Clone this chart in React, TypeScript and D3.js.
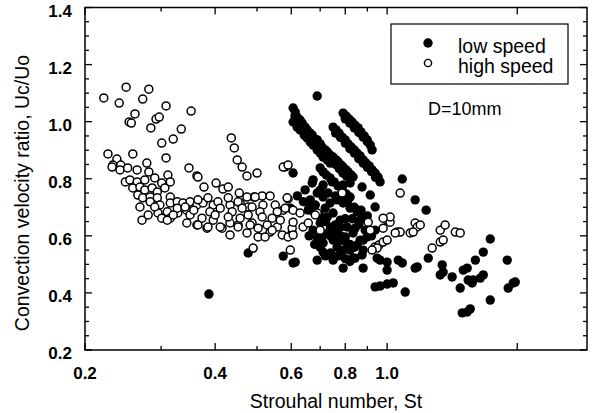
import React, { useEffect, useRef } from 'react'
import * as d3 from 'd3'

// [St, Uc/Uo]
const highSpeed: [number, number][] = [
  [0.221, 1.083], [0.240, 1.065], [0.249, 1.121], [0.272, 1.079], [0.281, 1.114], [0.308, 1.055],
  [0.352, 1.037], [0.261, 1.027], [0.253, 0.999], [0.256, 0.995], [0.292, 1.009], [0.297, 1.016],
  [0.284, 0.978], [0.334, 0.974], [0.320, 0.939], [0.301, 0.925], [0.436, 0.943], [0.443, 0.908],
  [0.450, 0.866], [0.462, 0.841], [0.474, 0.810], [0.500, 0.820],
  [0.226, 0.887], [0.237, 0.869], [0.258, 0.887], [0.308, 0.873], [0.232, 0.848], [0.242, 0.848],
  [0.278, 0.855], [0.348, 0.838], [0.363, 0.810], [0.377, 0.771], [0.402, 0.785], [0.417, 0.764],
  [0.429, 0.771], [0.455, 0.750], [0.492, 0.736], [0.514, 0.740], [0.536, 0.740], [0.590, 0.729],
  [0.575, 0.841], [0.590, 0.848],
  [0.231, 0.841], [0.241, 0.831], [0.251, 0.838], [0.264, 0.831], [0.281, 0.824], [0.311, 0.813],
  [0.248, 0.789], [0.254, 0.796], [0.264, 0.789], [0.275, 0.796], [0.290, 0.803], [0.301, 0.785],
  [0.315, 0.789], [0.258, 0.768], [0.268, 0.771], [0.275, 0.761], [0.286, 0.768], [0.294, 0.754],
  [0.306, 0.768], [0.265, 0.743], [0.272, 0.733], [0.283, 0.736], [0.294, 0.733], [0.315, 0.736],
  [0.268, 0.701], [0.283, 0.719], [0.298, 0.708], [0.315, 0.715], [0.327, 0.719], [0.337, 0.715],
  [0.350, 0.719], [0.363, 0.708], [0.271, 0.655], [0.280, 0.673], [0.295, 0.680], [0.310, 0.684],
  [0.315, 0.662], [0.328, 0.680], [0.327, 0.697], [0.344, 0.690], [0.350, 0.673], [0.344, 0.645],
  [0.363, 0.638], [0.301, 0.662], [0.290, 0.701],
  [0.341, 0.701], [0.375, 0.715], [0.396, 0.708], [0.406, 0.719], [0.433, 0.708], [0.457, 0.715],
  [0.477, 0.701], [0.516, 0.708], [0.551, 0.708], [0.575, 0.690], [0.310, 0.655], [0.320, 0.673],
  [0.383, 0.627], [0.396, 0.655], [0.415, 0.627], [0.433, 0.603], [0.433, 0.645], [0.452, 0.638],
  [0.474, 0.610], [0.487, 0.645], [0.503, 0.596], [0.516, 0.620], [0.536, 0.613], [0.557, 0.631],
  [0.572, 0.603], [0.603, 0.610], [0.490, 0.557], [0.597, 0.550],
  [0.365, 0.806], [0.474, 0.736], [0.495, 0.736], [0.365, 0.726], [0.385, 0.733], [0.429, 0.733],
  [0.452, 0.719], [0.587, 0.733], [0.357, 0.690], [0.389, 0.684], [0.411, 0.697], [0.438, 0.684],
  [0.462, 0.697], [0.487, 0.701], [0.508, 0.684], [0.557, 0.684], [0.581, 0.697], [0.373, 0.662],
  [0.400, 0.673], [0.429, 0.666], [0.457, 0.662], [0.477, 0.673], [0.514, 0.666], [0.542, 0.662],
  [0.566, 0.655], [0.365, 0.638], [0.385, 0.631], [0.411, 0.631], [0.452, 0.631], [0.482, 0.638],
  [0.503, 0.627], [0.528, 0.638], [0.542, 0.620], [0.603, 0.627], [0.522, 0.596], [0.590, 0.596],
  [0.606, 0.690], [0.629, 0.680], [0.606, 0.648], [0.639, 0.631], [0.657, 0.645], [0.606, 0.603],
  [0.689, 0.680], [0.700, 0.620], [0.787, 0.750], [0.904, 0.648], [0.914, 0.620], [0.938, 0.561],
  [0.958, 0.568], [0.979, 0.578], [1.000, 0.585], [0.979, 0.627], [1.000, 0.655], [1.016, 0.648],
  [1.016, 0.666], [1.055, 0.613], [1.072, 0.750],
  [0.682, 0.673], [0.979, 0.662], [1.072, 0.613], [1.131, 0.610], [1.161, 0.645], [1.174, 0.631],
  [1.149, 0.613], [1.271, 0.557], [1.327, 0.578], [1.348, 0.585], [1.327, 0.620], [1.362, 0.638],
  [1.438, 0.613], [1.476, 0.610], [0.948, 0.557], [0.923, 0.550], [1.193, 0.638], [1.044, 0.610],
]

const lowSpeed: [number, number][] = [
  [0.387, 0.396], [0.477, 0.540], [0.575, 0.529], [0.606, 0.505], [0.581, 0.841], [0.606, 0.820],
  [0.689, 1.090],
  [0.606, 1.048], [0.613, 1.034], [0.619, 1.016], [0.629, 1.006], [0.636, 0.995], [0.646, 0.981],
  [0.653, 0.971], [0.664, 0.960], [0.671, 0.953], [0.682, 0.939], [0.689, 0.936], [0.700, 0.922],
  [0.707, 0.911], [0.719, 0.901], [0.727, 0.894], [0.738, 0.883], [0.750, 0.876], [0.762, 0.866],
  [0.770, 0.859], [0.783, 0.848], [0.791, 0.841], [0.804, 0.831], [0.812, 0.824], [0.826, 0.813],
  [0.834, 0.806],
  [0.612, 1.020], [0.625, 0.990], [0.640, 0.970], [0.655, 0.955], [0.670, 0.940], [0.685, 0.920],
  [0.700, 0.905], [0.715, 0.890], [0.730, 0.880], [0.745, 0.865], [0.760, 0.850], [0.775, 0.835],
  [0.790, 0.820], [0.805, 0.810], [0.820, 0.800],
  [0.606, 0.999], [0.619, 0.981], [0.629, 0.971], [0.643, 0.953], [0.653, 0.943], [0.664, 0.929],
  [0.674, 0.918], [0.689, 0.901], [0.700, 0.890], [0.711, 0.876], [0.727, 0.866], [0.738, 0.855],
  [0.791, 1.030], [0.804, 1.020], [0.817, 1.009], [0.830, 0.999], [0.843, 0.988], [0.857, 0.978],
  [0.870, 0.964], [0.885, 0.950], [0.899, 0.936], [0.914, 0.918], [0.923, 0.901],
  [0.800, 1.010], [0.820, 0.995], [0.840, 0.978], [0.860, 0.962], [0.880, 0.946], [0.900, 0.930],
  [0.750, 0.981], [0.762, 0.971], [0.774, 0.960], [0.787, 0.946], [0.800, 0.936], [0.812, 0.922],
  [0.826, 0.911], [0.839, 0.901], [0.852, 0.890], [0.866, 0.880], [0.880, 0.866], [0.894, 0.855],
  [0.909, 0.845], [0.923, 0.831], [0.938, 0.820], [0.953, 0.806], [0.963, 0.789],
  [0.760, 0.960], [0.780, 0.945], [0.800, 0.925], [0.820, 0.905], [0.840, 0.890], [0.860, 0.870],
  [0.880, 0.855], [0.900, 0.840], [0.920, 0.825], [0.940, 0.805],
  [0.700, 0.838], [0.711, 0.824], [0.723, 0.813], [0.738, 0.803], [0.754, 0.789], [0.770, 0.775],
  [0.787, 0.761], [0.804, 0.747], [0.821, 0.736], [0.674, 0.796],
  [0.671, 0.785], [0.711, 0.778], [0.746, 0.789], [0.791, 0.778], [0.821, 0.785], [0.875, 0.771],
  [0.914, 0.743], [0.938, 0.701], [0.664, 0.726], [0.689, 0.750], [0.711, 0.736], [0.738, 0.715],
  [0.766, 0.726], [0.791, 0.715], [0.821, 0.697], [0.852, 0.684], [0.700, 0.645], [0.727, 0.666],
  [0.750, 0.680], [0.779, 0.655], [0.808, 0.631], [0.834, 0.610], [0.866, 0.585], [0.674, 0.620],
  [0.689, 0.592], [0.711, 0.575], [0.730, 0.610], [0.750, 0.585], [0.766, 0.561], [0.791, 0.550],
  [0.821, 0.550], [0.852, 0.568], [0.880, 0.585], [0.689, 0.515], [0.711, 0.543], [0.750, 0.515],
  [0.791, 0.487], [0.834, 0.522], [0.875, 0.533], [0.880, 0.487], [0.613, 0.508], [1.000, 0.480],
  [0.963, 0.515], [0.899, 0.596], [0.938, 0.620], [0.866, 0.655], [0.963, 0.424], [1.000, 0.431],
  [1.033, 0.435], [0.646, 0.761], [0.682, 0.708], [0.719, 0.697], [0.758, 0.638], [0.800, 0.596],
  [0.843, 0.627], [0.657, 0.690], [0.597, 0.697],
  [0.620, 0.740], [0.640, 0.720], [0.660, 0.700], [0.680, 0.680], [0.700, 0.670], [0.720, 0.650],
  [0.740, 0.630], [0.760, 0.610], [0.780, 0.600], [0.800, 0.580], [0.820, 0.570], [0.840, 0.560],
  [0.700, 0.760], [0.730, 0.750], [0.760, 0.740], [0.780, 0.730], [0.810, 0.720], [0.840, 0.700],
  [0.870, 0.690], [0.900, 0.670], [0.660, 0.600], [0.680, 0.570], [0.700, 0.560], [0.720, 0.530],
  [0.740, 0.540], [0.770, 0.530], [0.800, 0.520], [0.820, 0.510], [0.710, 0.600], [0.740, 0.600],
  [0.770, 0.580], [0.780, 0.630], [0.800, 0.660], [0.830, 0.660], [0.860, 0.640], [0.890, 0.620],
  [0.920, 0.600],
  [1.161, 0.726], [1.231, 0.690], [0.875, 0.662], [0.880, 0.550], [0.843, 0.522], [0.948, 0.522],
  [1.000, 0.508], [1.061, 0.515], [1.084, 0.505], [1.161, 0.487], [1.245, 0.522], [1.341, 0.498],
  [1.348, 0.473], [1.414, 0.456], [1.476, 0.417], [1.500, 0.480], [1.532, 0.487], [1.600, 0.515],
  [1.669, 0.543], [1.732, 0.589], [1.582, 0.445], [1.642, 0.452], [1.669, 0.463], [1.732, 0.375],
  [1.896, 0.515], [1.906, 0.417], [1.958, 0.435], [1.540, 0.445], [1.492, 0.330], [1.532, 0.333],
  [1.557, 0.344], [1.101, 0.403], [0.938, 0.421], [1.084, 0.799], [1.174, 0.491], [1.327, 0.463],
  [1.573, 0.435], [1.979, 0.438],
]

const xMajorTicks = [0.2, 0.4, 0.6, 0.8, 1.0, 2.0]
const xMinorTicks = [0.3, 0.5, 0.7, 0.9]
const xLabels = [0.2, 0.4, 0.6, 0.8, 1.0]
const yMajorTicks = [0.2, 0.4, 0.6, 0.8, 1.0, 1.2, 1.4]
const yMinorTicks = [0.25, 0.3, 0.35, 0.45, 0.5, 0.55, 0.65, 0.7, 0.75, 0.85, 0.9, 0.95, 1.05, 1.1, 1.15, 1.25, 1.3, 1.35]
const legendLabels = ['low speed', 'high speed']

const width = 592
const height = 413
const font = '"Liberation Sans", Arial, Helvetica, sans-serif'

export default function App() {
  const ref = useRef<SVGSVGElement>(null)

  useEffect(() => {
    const svg = d3.select(ref.current)
    svg.selectAll('*').remove()

    const x = d3.scaleLog().domain([0.2, 2.9]).range([85, 587])
    const y = d3.scaleLinear().domain([0.2, 1.4]).range([350, 7.5])
    const [x0, x1] = x.range()
    const [y0, y1] = y.range()

    const g = svg.append('g').attr('stroke', '#000').attr('stroke-width', 1.3)

    // ticks on all four sides, pointing into the frame
    const xTick = (vals: number[], len: number) => {
      g.selectAll(null).data(vals).enter().append('line')
        .attr('x1', d => x(d)).attr('x2', d => x(d)).attr('y1', y0).attr('y2', y0 - len)
      g.selectAll(null).data(vals).enter().append('line')
        .attr('x1', d => x(d)).attr('x2', d => x(d)).attr('y1', y1).attr('y2', y1 + len)
    }
    const yTick = (vals: number[], len: number) => {
      g.selectAll(null).data(vals).enter().append('line')
        .attr('y1', d => y(d)).attr('y2', d => y(d)).attr('x1', x0).attr('x2', x0 + len)
      g.selectAll(null).data(vals).enter().append('line')
        .attr('y1', d => y(d)).attr('y2', d => y(d)).attr('x1', x1).attr('x2', x1 - len)
    }
    xTick(xMajorTicks, 7)
    xTick(xMinorTicks, 4)
    yTick(yMajorTicks, 7)
    yTick(yMinorTicks, 4)

    // tick labels
    svg.append('g').selectAll('text').data(xLabels).enter().append('text')
      .attr('x', d => x(d)).attr('y', 379)
      .attr('text-anchor', 'middle')
      .attr('font-family', font).attr('font-size', 17).attr('font-weight', 'bold')
      .text(d => d3.format('.1f')(d))
    svg.append('g').selectAll('text').data(yMajorTicks).enter().append('text')
      .attr('x', 72).attr('y', d => y(d) + 9)
      .attr('text-anchor', 'end')
      .attr('font-family', font).attr('font-size', 17).attr('font-weight', 'bold')
      .text(d => d3.format('.1f')(d))

    // markers: filled first, open on top
    svg.append('g').selectAll('circle').data(lowSpeed).enter().append('circle')
      .attr('cx', d => x(d[0])).attr('cy', d => y(d[1])).attr('r', 4.7)
      .attr('fill', '#000')
    svg.append('g').selectAll('circle').data(highSpeed).enter().append('circle')
      .attr('cx', d => x(d[0])).attr('cy', d => y(d[1])).attr('r', 4)
      .attr('fill', '#fff').attr('stroke', '#000').attr('stroke-width', 1.5)

    // frame
    svg.append('rect')
      .attr('x', x0).attr('y', y1).attr('width', x1 - x0).attr('height', y0 - y1)
      .attr('fill', 'none').attr('stroke', '#000').attr('stroke-width', 1.5)

    // axis titles
    svg.append('text')
      .attr('x', (x0 + x1) / 2).attr('y', 408)
      .attr('text-anchor', 'middle')
      .attr('font-family', font).attr('font-size', 19.5)
      .text('Strouhal number, St')
    svg.append('text')
      .attr('transform', 'translate(29,193) rotate(-90)')
      .attr('text-anchor', 'middle')
      .attr('font-family', font).attr('font-size', 19.5)
      .text('Convection velocity ratio, Uc/Uo')

    // legend
    const legend = svg.append('g')
    legend.append('rect')
      .attr('x', 391).attr('y', 24).attr('width', 177).attr('height', 60)
      .attr('fill', '#fff').attr('stroke', '#000').attr('stroke-width', 1.2)
    legend.append('circle').attr('cx', 428).attr('cy', 43).attr('r', 4.7).attr('fill', '#000')
    legend.append('circle').attr('cx', 428).attr('cy', 63).attr('r', 3.6)
      .attr('fill', '#fff').attr('stroke', '#000').attr('stroke-width', 1.4)
    legend.selectAll('text.lbl').data(legendLabels).enter().append('text')
      .attr('class', 'lbl')
      .attr('x', 458).attr('y', (d, i) => 53 + i * 20)
      .attr('font-family', font).attr('font-size', 19.5)
      .text(d => d)

    svg.append('text')
      .attr('x', 428).attr('y', 115)
      .attr('font-family', font).attr('font-size', 18)
      .text('D=10mm')
  }, [])

  return (
    <svg
      ref={ref}
      width={width}
      height={height}
      style={{ position: 'absolute', left: 0, top: 0, background: '#fff' }}
    />
  )
}
